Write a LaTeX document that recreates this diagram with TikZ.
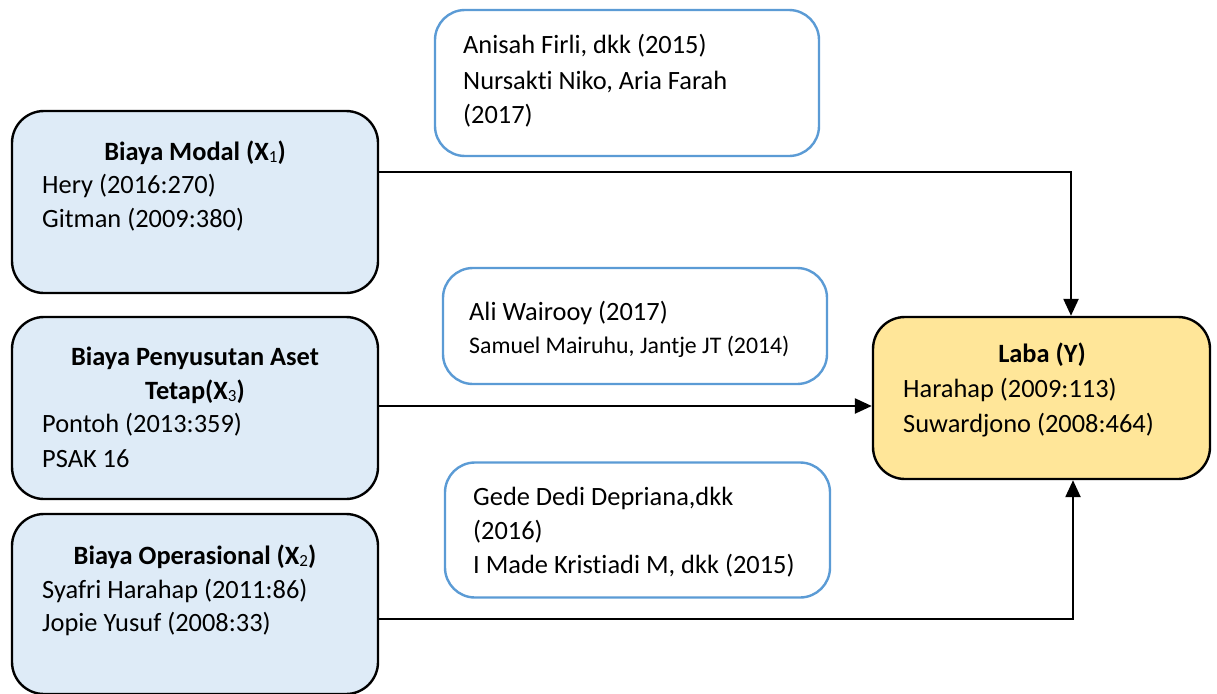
\documentclass[tikz,border=0pt]{standalone}
\usepackage{fontspec}
\setmainfont[Ligatures=NoCommon]{Carlito}
\usetikzlibrary{arrows.meta}
\definecolor{varfill}{HTML}{DEEBF7}
\definecolor{refline}{HTML}{5B9BD5}
\definecolor{labafill}{HTML}{FFE699}
\newcommand{\subidx}[1]{\raisebox{-0.08em}{\fontsize{17}{17}\selectfont\mdseries #1}}
\tikzset{
  varbox/.style={draw=black,line width=2.4pt,rounded corners=32pt,fill=varfill},
  refbox/.style={draw=refline,line width=2.4pt,rounded corners=30pt,fill=white},
  lababox/.style={draw=black,line width=2.4pt,rounded corners=32pt,fill=labafill},
  txt/.style={anchor=base west,inner sep=0pt,font=\fontsize{26.4}{31}\selectfont},
  small/.style={anchor=base west,inner sep=0pt,font=\fontsize{23.8}{28}\selectfont},
  ttl/.style={anchor=base,inner sep=0pt,font=\fontsize{26.4}{31}\selectfont\bfseries},
  arr/.style={line width=2.4pt,-{Triangle[length=17pt,width=15pt]}}
}
\begin{document}
\begin{tikzpicture}[x=1pt,y=-1pt]
  \useasboundingbox (0,0) rectangle (1217,693);
  % variable boxes
  \node[varbox,minimum width=366pt,minimum height=182pt] (modal) at (195,202) {};
  \node[varbox,minimum width=366pt,minimum height=182pt] (susut) at (195,408) {};
  \node[varbox,minimum width=366pt,minimum height=180pt] (opr) at (195,604) {};
  \node[lababox,minimum width=337pt,minimum height=162pt] (laba) at (1041.5,398) {};
  % reference boxes
  \node[refbox,minimum width=384pt,minimum height=146pt] (ref1) at (627,83) {};
  \node[refbox,minimum width=384pt,minimum height=116pt] (ref2) at (635,326) {};
  \node[refbox,minimum width=385pt,minimum height=135pt] (ref3) at (637.5,530) {};
  % texts
  \node[ttl] (modalt) at (195,160) {Biaya Modal (X\subidx{1})};
  \node[txt] (modal1) at (42,193) {Hery (2016:270)};
  \node[txt] (modal2) at (42,227) {Gitman (2009:380)};
  \node[ttl] (susutt) at (195,365) {Biaya Penyusutan Aset};
  \node[ttl] (susutu) at (195,399) {Tetap(X\subidx{3})};
  \node[txt] (susut1) at (42,432) {Pontoh (2013:359)};
  \node[txt] (susut2) at (42,467) {PSAK 16};
  \node[ttl] (oprt) at (195,564) {Biaya Operasional (X\subidx{2})};
  \node[txt] (opr1) at (42,598) {Syafri Harahap (2011:86)};
  \node[txt] (opr2) at (42,631) {Jopie Yusuf (2008:33)};
  \node[ttl] (labat) at (1042,362) {Laba (Y)};
  \node[txt] (laba1) at (903,397) {Harahap (2009:113)};
  \node[txt] (laba2) at (903,432) {Suwardjono (2008:464)};
  \node[txt] (ref1a) at (463,53) {Anisah Firli, dkk (2015)};
  \node[txt] (ref1b) at (463,89) {Nursakti Niko, Aria Farah};
  \node[txt] (ref1c) at (463,123) {(2017)};
  \node[txt] (ref2a) at (469,320) {Ali Wairooy (2017)};
  \node[small] (ref2b) at (469,353) {Samuel Mairuhu, Jantje JT (2014)};
  \node[txt] (ref3a) at (473,505) {Gede Dedi Depriana,dkk};
  \node[txt] (ref3b) at (473,539) {(2016)};
  \node[txt] (ref3c) at (473,573) {I Made Kristiadi M, dkk (2015)};
  % connectors
  \draw[arr] (modal.east|-0,172) -| (laba.north-|1071,0);
  \draw[arr] (susut.east|-0,406) -- (laba.west|-0,406);
  \draw[arr] (opr.east|-0,619) -| (laba.south-|1073,0);
\end{tikzpicture}
\end{document}
